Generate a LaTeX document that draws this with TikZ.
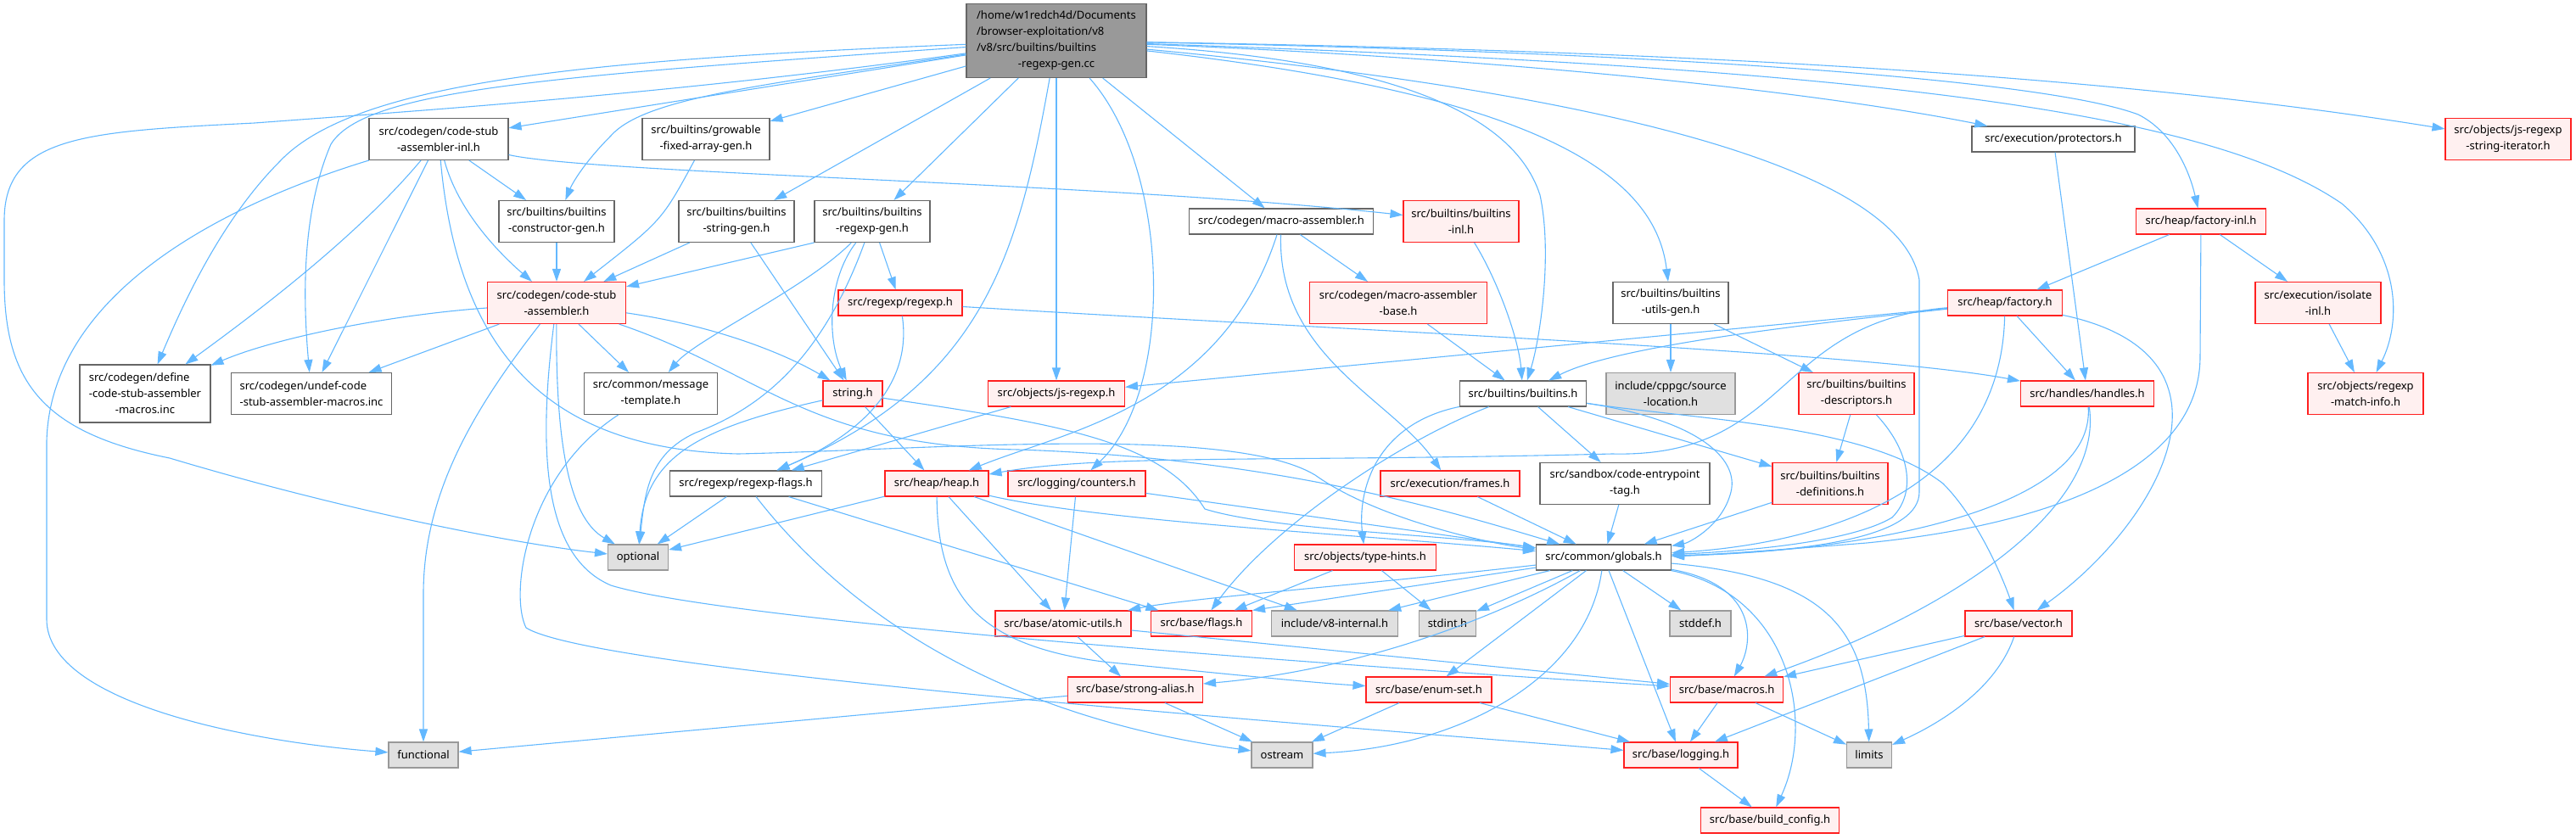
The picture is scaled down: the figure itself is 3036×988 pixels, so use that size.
\documentclass[tikz,border=0pt]{standalone}
\usepackage{fontspec}
\setmainfont{Noto Sans}
\usepackage{tikz}
\usetikzlibrary{arrows.meta}
\usepackage{xcolor}
\definecolor{edgeBlue}{HTML}{63B8FF}
\definecolor{redLine}{HTML}{FF2020}
\definecolor{redFill}{HTML}{FFF0F0}
\definecolor{grayFill}{HTML}{E0E0E0}
\definecolor{grayLine}{HTML}{999999}
\definecolor{darkLine}{HTML}{666666}
\definecolor{rootFill}{HTML}{999999}
\tikzset{
    font=\fontsize{13}{19}\selectfont,
    >={Triangle[length=15pt,width=10pt]},
    % Colors
    fileWhite/.style={draw=darkLine, fill=white},
    fileRed/.style={draw=redLine, fill=redFill},
    fileGray/.style={draw=grayLine, fill=grayFill},
    fileRoot/.style={draw=darkLine, fill=rootFill},
    % Shapes
    file/.style={rectangle, line width=1.1pt, align=center, inner xsep=6pt, inner ysep=2pt,
                 minimum height=30pt, fileWhite},
    lines2/.style={minimum height=49pt},
    lines3/.style={minimum height=68pt},
    lines4/.style={minimum height=87pt},
    % Includes
    inc/.style={->, line width=1.1pt, edgeBlue}
}

\begin{document}
\begin{tikzpicture}[x=1pt, y=-1pt]
\useasboundingbox (0,0) rectangle (3036,988);

\node[file, fileRoot, lines4, align=left, minimum width=212pt] (root) at (1245,48) {/home/w1redch4d/Documents\\/browser-exploitation/v8\\/v8/src/builtins/builtins\\\hfil -regexp-gen.cc};

\node[file, lines2, minimum width=164pt] (csainl) at (517,164) {src/codegen/code-stub\\-assembler-inl.h};
\node[file, lines2, minimum width=150pt] (growable) at (832,164) {src/builtins/growable\\-fixed-array-gen.h};
\node[file, minimum width=192pt] (protectors) at (2420,164) {src/execution/protectors.h};
\node[file, fileRed, lines2, minimum width=148pt] (jsiter) at (2956,164) {src/objects/js-regexp\\-string-iterator.h};

\node[file, lines2, minimum width=136pt] (ctorgen) at (656,261) {src/builtins/builtins\\-constructor-gen.h};
\node[file, lines2, minimum width=136pt] (strgen) at (868,261) {src/builtins/builtins\\-string-gen.h};
\node[file, lines2, minimum width=136pt] (rxgen) at (1028,261) {src/builtins/builtins\\-regexp-gen.h};
\node[file, minimum width=217pt] (masm) at (1510,261) {src/codegen/macro-assembler.h};
\node[file, fileRed, lines2, minimum width=136pt] (binl) at (1722,261) {src/builtins/builtins\\-inl.h};
\node[file, fileRed, minimum width=153pt] (factinl) at (2594,261) {src/heap/factory-inl.h};

\node[file, fileRed, lines2, minimum width=163pt] (csa) at (656,357) {src/codegen/code-stub\\-assembler.h};
\node[file, fileRed, minimum width=146pt] (rxh) at (1061,357) {src/regexp/regexp.h};
\node[file, fileRed, lines2, minimum width=209pt] (masmbase) at (1648,357) {src/codegen/macro-assembler\\-base.h};
\node[file, lines2, minimum width=136pt] (utilsgen) at (1969,357) {src/builtins/builtins\\-utils-gen.h};
\node[file, fileRed, minimum width=135pt] (factory) at (2363,357) {src/heap/factory.h};
\node[file, fileRed, lines2, minimum width=148pt] (isoinl) at (2732,357) {src/execution/isolate\\-inl.h};

\node[file, lines3, align=left, minimum width=154pt] (definc) at (171,464) {src/codegen/define\\-code-stub-assembler\\\hfil -macros.inc};
\node[file, lines2, align=left, minimum width=189pt] (undefinc) at (367,464) {src/codegen/undef-code\\-stub-assembler-macros.inc};
\node[file, lines2, align=left, minimum width=157pt] (msgtmpl) at (767,464) {src/common/message\\\hfil -template.h};
\node[file, fileRed, minimum width=70pt] (stringh) at (1005,464) {string.h};
\node[file, fileRed, minimum width=161pt] (jsrx) at (1245,464) {src/objects/js-regexp.h};
\node[file, minimum width=149pt] (builtins) at (1795,464) {src/builtins/builtins.h};
\node[file, fileGray, lines2, minimum width=152pt] (srcloc) at (1969,464) {include/cppgc/source\\-location.h};
\node[file, fileRed, lines2, minimum width=136pt] (descr) at (2188,464) {src/builtins/builtins\\-descriptors.h};
\node[file, fileRed, minimum width=157pt] (handles) at (2460,464) {src/handles/handles.h};
\node[file, fileRed, lines2, minimum width=136pt] (matchinfo) at (2788,464) {src/objects/regexp\\-match-info.h};

\node[file, minimum width=179pt] (rxflags) at (879,570) {src/regexp/regexp-flags.h};
\node[file, fileRed, minimum width=122pt] (heap) at (1104,570) {src/heap/heap.h};
\node[file, fileRed, minimum width=162pt] (counters) at (1269,570) {src/logging/counters.h};
\node[file, fileRed, minimum width=164pt] (frames) at (1709,570) {src/execution/frames.h};
\node[file, lines2, minimum width=200pt] (cetag) at (1915,570) {src/sandbox/code-entrypoint\\-tag.h};
\node[file, fileRed, lines2, minimum width=136pt] (defs) at (2157,570) {src/builtins/builtins\\-definitions.h};

\node[file, fileGray, minimum width=71pt] (optional) at (752,657) {optional};
\node[file, fileRed, minimum width=167pt] (typehints) at (1609,657) {src/objects/type-hints.h};
\node[file, minimum width=159pt] (globals) at (1890,657) {src/common/globals.h};

\node[file, fileRed, minimum width=160pt] (atomic) at (1253,735) {src/base/atomic-utils.h};
\node[file, fileRed, minimum width=119pt] (flags) at (1416,735) {src/base/flags.h};
\node[file, fileGray, minimum width=149pt] (v8int) at (1573,735) {include/v8-internal.h};
\node[file, fileGray, minimum width=67pt] (stdint) at (1706,735) {stdint.h};
\node[file, fileGray, minimum width=72pt] (stddef) at (2004,735) {stddef.h};
\node[file, fileRed, minimum width=126pt] (vector) at (2379,735) {src/base/vector.h};

\node[file, fileRed, minimum width=159pt] (strong) at (1338,813) {src/base/strong-alias.h};
\node[file, fileRed, minimum width=148pt] (enumset) at (1684,813) {src/base/enum-set.h};
\node[file, fileRed, minimum width=133pt] (macros) at (2035,813) {src/base/macros.h};

\node[file, fileGray, minimum width=82pt] (functional) at (499,890) {functional};
\node[file, fileGray, minimum width=72pt] (ostream) at (1511,890) {ostream};
\node[file, fileRed, minimum width=134pt] (logging) at (1981,890) {src/base/logging.h};
\node[file, fileGray, minimum width=53pt] (limits) at (2203,890) {limits};
\node[file, fileRed, minimum width=163pt] (buildcfg) at (2086,967) {src/base/build\_config.h};

\draw[inc] (root) -- (csainl);
\draw[inc] (root) -- (growable);
\draw[inc] (root) .. controls (900,100) and (760,115) .. (720,160) .. controls (690,190) and (675,215) .. (ctorgen);
\draw[inc] (root) -- (strgen);
\draw[inc] (root) -- (rxgen);
\draw[inc] (root) -- (masm);
\draw[inc] (root) .. controls (1600,70) and (1780,120) .. (1815,230) .. controls (1830,300) and (1815,400) .. (builtins);
\draw[inc] (root) .. controls (1800,110) and (1950,200) .. (utilsgen);
\draw[inc] (root) .. controls (1900,110) and (2240,200) .. (2262,330) -- (2262,580) .. controls (2262,630) and (2150,650) .. (globals);
\draw[inc] (root) .. controls (1800,70) and (2150,110) .. (protectors);
\draw[inc] (root) .. controls (1900,60) and (2400,90) .. (2520,135) .. controls (2560,155) and (2580,200) .. (factinl);
\draw[inc] (root) .. controls (2000,60) and (2500,90) .. (jsiter);
\draw[inc] (root) .. controls (2200,80) and (2600,130) .. (2760,240) .. controls (2830,300) and (2830,380) .. (matchinfo);
\draw[inc] (root) -- (jsrx);
\draw[inc] (root) .. controls (1380,200) and (1385,460) .. (counters);
\draw[inc] (root) .. controls (1200,300) and (1160,450) .. (rxflags);
\draw[inc] (root) .. controls (800,110) and (500,130) .. (300,145) .. controls (100,155) and (5,160) .. (5,260) -- (5,330) .. controls (5,450) and (50,510) .. (200,540) .. controls (400,600) and (600,640) .. (optional);
\draw[inc] (root) .. controls (700,70) and (420,95) .. (330,190) .. controls (260,260) and (215,360) .. (definc);
\draw[inc] (root) .. controls (650,90) and (430,105) .. (390,170) .. controls (360,240) and (355,330) .. (undefinc);

\draw[inc] (csainl) .. controls (540,250) and (590,300) .. (csa);
\draw[inc] (csainl) -- (ctorgen);
\draw[inc] (csainl) .. controls (420,280) and (300,370) .. (definc);
\draw[inc] (csainl) -- (undefinc);
\draw[inc] (csainl) .. controls (300,230) and (60,330) .. (55,520) -- (55,730) .. controls (55,830) and (300,875) .. (functional);
\draw[inc] (csainl) .. controls (700,205) and (1300,215) .. (binl);
\draw[inc] (csainl) .. controls (540,420) and (650,530) .. (870,535) .. controls (1100,530) and (1450,500) .. (1550,560) .. controls (1620,610) and (1750,640) .. (globals);

\draw[inc] (ctorgen) -- (csa);
\draw[inc] (growable) .. controls (780,260) .. (csa);
\draw[inc] (strgen) -- (csa);
\draw[inc] (strgen) -- (stringh);
\draw[inc] (rxgen.south west) -- (csa);
\draw[inc] (rxgen) .. controls (950,340) and (820,400) .. (msgtmpl);
\draw[inc] (rxgen) .. controls (975,330) and (975,400) .. (stringh);
\draw[inc] (rxgen) -- (rxh);
\draw[inc] (rxgen) .. controls (970,420) and (900,480) .. (820,510) .. controls (765,535) and (760,580) .. (optional);

\draw[inc] (csa) .. controls (450,372) and (320,400) .. (definc);
\draw[inc] (csa) -- (undefinc);
\draw[inc] (csa) -- (msgtmpl);
\draw[inc] (csa) .. controls (850,385) and (930,420) .. (stringh);
\draw[inc] (csa) .. controls (655,520) and (670,610) .. (optional);
\draw[inc] (csa) .. controls (560,480) and (499,580) .. (499,700) -- (functional);
\draw[inc] (csa) .. controls (900,440) and (950,525) .. (1200,530) .. controls (1500,540) and (1700,600) .. (globals);
\draw[inc] (csa) .. controls (630,560) and (650,660) .. (720,690) .. controls (850,730) and (1500,780) .. (macros);

\draw[inc] (stringh) -- (heap);
\draw[inc] (stringh) .. controls (820,505) and (760,540) .. (optional);
\draw[inc] (stringh) .. controls (1250,500) and (1370,520) .. (1420,600) .. controls (1500,625) and (1700,630) .. (globals);
\draw[inc] (rxh) .. controls (1600,390) and (2200,415) .. (handles);
\draw[inc] (rxh) .. controls (1075,450) and (1020,510) .. (rxflags);
\draw[inc] (jsrx) -- (rxflags);
\draw[inc] (msgtmpl) .. controls (620,560) and (600,700) .. (620,740) .. controls (700,790) and (1500,850) .. (logging);

\draw[inc] (rxflags) -- (optional);
\draw[inc] (rxflags) -- (flags);
\draw[inc] (rxflags) .. controls (980,700) and (1150,840) .. (ostream);
\draw[inc] (heap) -- (optional);
\draw[inc] (heap) -- (atomic);
\draw[inc] (heap) -- (v8int);
\draw[inc] (heap) .. controls (1105,700) and (1150,760) .. (1300,780) .. controls (1450,795) and (1550,805) .. (enumset);
\draw[inc] (heap) .. controls (1300,615) and (1600,630) .. (globals);
\draw[inc] (counters) -- (atomic);
\draw[inc] (counters) -- (globals);

\draw[inc] (masm) -- (masmbase);
\draw[inc] (masm) .. controls (1505,420) and (1640,470) .. (frames);
\draw[inc] (masm) .. controls (1440,480) and (1250,510) .. (heap);
\draw[inc] (binl) .. controls (1765,330) and (1790,400) .. (builtins);
\draw[inc] (masmbase) -- (builtins);
\draw[inc] (utilsgen) -- (srcloc);
\draw[inc] (utilsgen) -- (descr);
\draw[inc] (descr) -- (defs);
\draw[inc] (descr) .. controls (2250,530) and (2260,580) .. (2230,610) .. controls (2180,640) and (2050,650) .. (globals);

\draw[inc] (factinl) -- (factory);
\draw[inc] (factinl) -- (isoinl);
\draw[inc] (factinl) -- (2593,420) .. controls (2593,560) and (2400,620) .. (2200,640) .. controls (2100,648) and (2000,655) .. (globals);
\draw[inc] (isoinl) -- (matchinfo);
\draw[inc] (protectors) -- (handles);
\draw[inc] (factory) -- (handles);
\draw[inc] (factory) -- (jsrx);
\draw[inc] (factory) .. controls (2100,385) and (1900,410) .. (builtins);
\draw[inc] (factory) .. controls (2090,380) and (2110,540) .. (1900,535) .. controls (1500,545) and (1300,535) .. (heap);
\draw[inc] (factory) .. controls (2358,580) and (2150,640) .. (globals);
\draw[inc] (factory) .. controls (2660,420) and (2540,620) .. (vector);
\draw[inc] (handles) .. controls (2470,600) and (2200,650) .. (globals);
\draw[inc] (handles) .. controls (2480,600) and (2300,720) .. (macros);

\draw[inc] (builtins) -- (cetag);
\draw[inc] (builtins) -- (defs);
\draw[inc] (builtins) .. controls (2000,495) and (2050,540) .. (2040,580) .. controls (2030,620) and (1990,640) .. (globals);
\draw[inc] (builtins) .. controls (1620,500) and (1600,580) .. (typehints);
\draw[inc] (builtins) .. controls (1650,520) and (1500,620) .. (flags);
\draw[inc] (builtins) .. controls (2000,495) and (2200,500) .. (2290,570) .. controls (2330,610) and (2360,680) .. (vector);
\draw[inc] (typehints) -- (flags);
\draw[inc] (typehints) -- (stdint);
\draw[inc] (frames) -- (globals);
\draw[inc] (cetag) -- (globals);
\draw[inc] (defs) -- (globals);

\draw[inc] (globals) .. controls (1600,690) and (1400,705) .. (atomic);
\draw[inc] (globals) -- (flags.north east);
\draw[inc] (globals) -- (v8int);
\draw[inc] (globals) -- (stdint);
\draw[inc] (globals) -- (stddef);
\draw[inc] (globals) -- (enumset);
\draw[inc] (globals) .. controls (1760,730) and (1600,790) .. (strong);
\draw[inc] (globals) .. controls (1870,800) and (1720,880) .. (ostream);
\draw[inc] (globals) -- (logging);
\draw[inc] (globals) .. controls (2075,690) and (2065,760) .. (macros);
\draw[inc] (globals) .. controls (2110,700) and (2140,850) .. (buildcfg);
\draw[inc] (globals) .. controls (2150,680) and (2200,740) .. (limits);

\draw[inc] (atomic) -- (strong);
\draw[inc] (atomic) -- (macros);
\draw[inc] (strong) -- (functional);
\draw[inc] (strong) -- (ostream);
\draw[inc] (enumset) -- (ostream);
\draw[inc] (enumset) -- (logging);
\draw[inc] (macros) -- (logging);
\draw[inc] (macros) -- (limits);
\draw[inc] (vector) -- (macros);
\draw[inc] (vector) -- (logging);
\draw[inc] (vector) .. controls (2350,820) and (2270,860) .. (limits);
\draw[inc] (logging) -- (buildcfg);

\end{tikzpicture}
\end{document}
